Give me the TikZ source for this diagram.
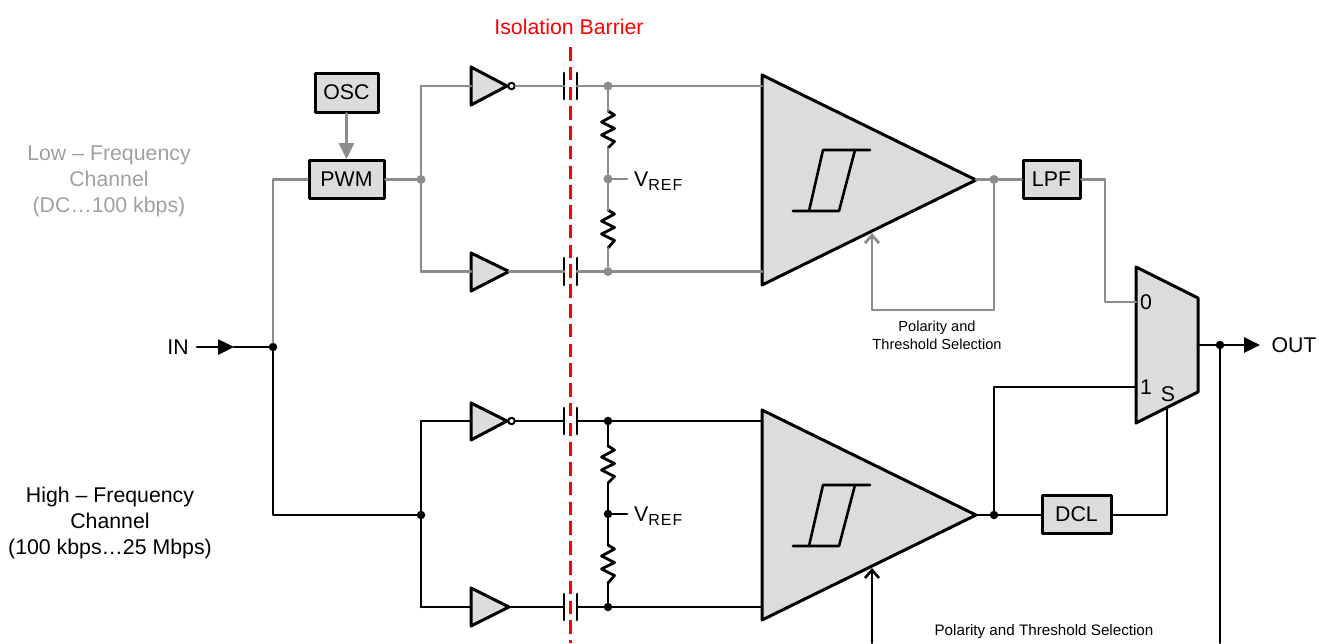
\documentclass[tikz,border=0pt]{standalone}
\usepackage{fontspec}
\setmainfont{Liberation Sans}
\usetikzlibrary{arrows.meta}
\definecolor{wiregray}{RGB}{140,140,140}
\definecolor{bodygray}{RGB}{220,220,220}
\definecolor{textgray}{RGB}{160,160,160}
\definecolor{barrierred}{RGB}{255,0,0}
\newcommand{\vref}{V\raisebox{-3.5pt}{\addfontfeature{LetterSpace=6}\fontsize{16}{16}\selectfont REF}}
\begin{document}
\begin{tikzpicture}[line cap=round,line join=round,x=1pt,y=-1pt,
  >={Triangle[length=16pt,width=15pt]},
  gwire/.style={draw=wiregray,line width=2.8pt},
  bwire/.style={draw=black,line width=2.6pt},
  body/.style={draw=black,fill=bodygray,line width=3pt},
  block/.style={body,rectangle,inner sep=0pt,font=\fontsize{21.3}{21.3}\selectfont},
  plate/.style={draw=black,line width=2.8pt},
  res/.style={draw=black,line width=2.8pt},
  gdot/.style={circle,fill=wiregray,inner sep=0pt,minimum size=9pt},
  bdot/.style={circle,fill=black,inner sep=0pt,minimum size=8.5pt},
  bubble/.style={circle,draw=black,fill=white,line width=2pt,inner sep=0pt,minimum size=6.5pt},
  lab/.style={inner sep=0pt,font=\fontsize{21.3}{26}\selectfont,align=center},
  small/.style={inner sep=0pt,font=\fontsize{14.6}{18}\selectfont,align=center}]
\useasboundingbox (0,0) rectangle (1319,643);
% barrier
\coordinate (bartop) at (570,47);
\coordinate (barbot) at (570,643);
\draw [draw=barrierred,line width=3pt,line cap=butt,dash pattern=on 13.5pt off 6.27pt] (bartop) -- (barbot);
\node [lab,text=barrierred] (bartext) at (569,27) {Isolation Barrier};
% side texts
\node [lab,text=textgray] (lotext) at (109,181) {Low -- Frequency\\Channel\\(DC\dots100 kbps)};
\node [lab] (hitext) at (110,523) {High -- Frequency\\Channel\\(100 kbps\dots25 Mbps)};
\node [lab] (intext) at (178,347) {IN};
\node [lab] (outtext) at (1294,345) {OUT};
\coordinate (inarrow) at (197,347);
\coordinate (inhead) at (234,347);
\node [bdot] (jin) at (273,347) {};
\coordinate (jinlo) at (273,179.5);
\coordinate (jinhi) at (273,515);
% low channel blocks
\node [block,minimum width=63pt,minimum height=39pt] (osc) at (346.5,92.5) {OSC};
\node [block,minimum width=75pt,minimum height=38pt] (pwm) at (346.5,179.5) {PWM};
\node [block,minimum width=57pt,minimum height=38pt] (lpf) at (1051.5,179.5) {LPF};
\node [gdot] (jpwm) at (421,179.5) {};
\coordinate (lotopl) at (421,86);
\coordinate (lobotl) at (421,271.5);
\draw [body] (471,67) -- (507,86) -- (471,105) -- cycle;
\draw [body] (471,253) -- (509,271.5) -- (471,291) -- cycle;
\coordinate (invloin) at (471,86);
\coordinate (bufloin) at (471,271.5);
\coordinate (bufloout) at (509,271.5);
\node [bubble] (bublo) at (511.5,86) {};
\coordinate (capla) at (564,86);
\coordinate (caplb) at (577,86);
\coordinate (caplc) at (564,271.5);
\coordinate (capld) at (577,271.5);
\draw [plate] (564,73) -- (564,99);
\draw [plate] (577,73) -- (577,99);
\draw [plate] (564,258) -- (564,285);
\draw [plate] (577,258) -- (577,285);
\node [gdot] (jlotop) at (608,86) {};
\node [gdot] (jlomid) at (608,179) {};
\node [gdot] (jlobot) at (608,271.5) {};
\coordinate (restla) at (608,111);
\coordinate (restlb) at (608,148);
\coordinate (resbla) at (608,210);
\coordinate (resblb) at (608,248);
\draw [res] (restla) -- ++(6.5,4) -- ++(-13,7) -- ++(13,6.5) -- ++(-13,6.5) -- ++(13,6.5) -- (restlb);
\draw [res] (resbla) -- ++(6.5,4) -- ++(-13,7) -- ++(13,6.5) -- ++(-13,6.5) -- ++(13,6.5) -- (resblb);
\coordinate (vrefl) at (627,179);
\node [lab,anchor=west] (vreflo) at (634,181) {\vref};
\draw [body] (762,75) -- (976,180) -- (762,285) -- cycle;
\coordinate (amplotop) at (762,86);
\coordinate (amplobot) at (762,271.5);
\coordinate (amploout) at (976,179.5);
\draw [bwire] (793,211) -- (839,211) -- (855,150) -- (870,150);
\draw [bwire] (809,211) -- (823,150) -- (855,150);
\node [gdot] (jloout) at (994,179.5) {};
\coordinate (fblo) at (994,310);
\coordinate (fblob) at (872,310);
\coordinate (fbloamp) at (872,233);
\node [small] (pollo) at (937,335) {Polarity and\\Threshold Selection};
% low channel wires
\draw [gwire] (jin) -- (jinlo) -- (pwm);
\draw [gwire,->] (osc) -- (pwm);
\draw [gwire] (pwm) -- (jpwm);
\draw [gwire] (lotopl) -- (jpwm) -- (lobotl);
\draw [gwire] (lotopl) -- (invloin);
\draw [gwire] (lobotl) -- (bufloin);
\draw [gwire] (bublo) -- (capla);
\draw [gwire] (bufloout) -- (caplc);
\draw [gwire] (caplb) -- (amplotop);
\draw [gwire] (capld) -- (amplobot);
\draw [gwire] (jlotop) -- (restla);
\draw [gwire] (restlb) -- (jlomid) -- (resbla);
\draw [gwire] (resblb) -- (jlobot);
\draw [gwire] (jlomid) -- (vrefl);
\draw [gwire] (amploout) -- (jloout) -- (lpf);
\draw [gwire,-{Straight Barb[length=8pt,width=14pt]}] (jloout) -- (fblo) -- (fblob) -- (fbloamp);
% high channel blocks
\node [bdot] (jhi) at (421,515) {};
\coordinate (hitopl) at (421,421);
\coordinate (hibotl) at (421,607);
\draw [body] (471,403) -- (507,421) -- (471,440) -- cycle;
\draw [body] (471,588) -- (509,607) -- (471,626) -- cycle;
\coordinate (invhiin) at (471,421);
\coordinate (bufhiin) at (471,607);
\coordinate (bufhiout) at (509,607);
\node [bubble] (bubhi) at (511.5,421) {};
\coordinate (capha) at (564,421);
\coordinate (caphb) at (577,421);
\coordinate (caphc) at (564,607);
\coordinate (caphd) at (577,607);
\draw [plate] (564,408) -- (564,434);
\draw [plate] (577,408) -- (577,434);
\draw [plate] (564,594) -- (564,620);
\draw [plate] (577,594) -- (577,620);
\node [bdot] (jhitop) at (608,421) {};
\node [bdot] (jhimid) at (608,514) {};
\node [bdot] (jhibot) at (608,607) {};
\coordinate (resthia) at (608,446);
\coordinate (resthib) at (608,483);
\coordinate (resbhia) at (608,545);
\coordinate (resbhib) at (608,583);
\draw [res] (resthia) -- ++(6.5,4) -- ++(-13,7) -- ++(13,6.5) -- ++(-13,6.5) -- ++(13,6.5) -- (resthib);
\draw [res] (resbhia) -- ++(6.5,4) -- ++(-13,7) -- ++(13,6.5) -- ++(-13,6.5) -- ++(13,6.5) -- (resbhib);
\coordinate (vrefh) at (627,514);
\node [lab,anchor=west] (vrefhi) at (634,516) {\vref};
\draw [body] (762,410) -- (976,515) -- (762,620) -- cycle;
\coordinate (amphitop) at (762,421);
\coordinate (amphibot) at (762,607);
\coordinate (amphiout) at (976,515);
\draw [bwire] (793,546) -- (839,546) -- (855,485) -- (870,485);
\draw [bwire] (809,546) -- (823,485) -- (855,485);
\node [bdot] (jhiout) at (994,515) {};
\node [block,minimum width=69pt,minimum height=38pt] (dcl) at (1076.5,514) {DCL};
\coordinate (fbhi) at (872,643);
\coordinate (fbhiamp) at (872,568);
\node [small,font=\fontsize{15.2}{18}\selectfont] (polhi) at (1044,631.5) {Polarity and Threshold Selection};
% high channel wires
\draw [bwire] (jin) -- (jinhi) -- (jhi);
\draw [bwire] (hitopl) -- (jhi) -- (hibotl);
\draw [bwire] (hitopl) -- (invhiin);
\draw [bwire] (hibotl) -- (bufhiin);
\draw [bwire] (bubhi) -- (capha);
\draw [bwire] (bufhiout) -- (caphc);
\draw [bwire] (caphb) -- (amphitop);
\draw [bwire] (caphd) -- (amphibot);
\draw [bwire] (jhitop) -- (resthia);
\draw [bwire] (resthib) -- (jhimid) -- (resbhia);
\draw [bwire] (resbhib) -- (jhibot);
\draw [bwire] (jhimid) -- (vrefh);
\draw [bwire] (amphiout) -- (jhiout) -- (dcl.west |- jhiout);
\draw [bwire,-{Straight Barb[length=8pt,width=14pt]}] (fbhi) -- (fbhiamp);
% mux
\draw [body] (1136,267) -- (1198,298) -- (1198,392) -- (1136,423) -- cycle;
\coordinate (muxa) at (1136,302);
\coordinate (muxb) at (1136,387);
\coordinate (muxs) at (1167,407);
\coordinate (muxo) at (1198,345);
\node [lab] (muxzero) at (1146,302) {0};
\node [lab] (muxone) at (1146,387) {1};
\node [lab] (muxsel) at (1168,394) {S};
\coordinate (lpfa) at (1105,179.5);
\coordinate (lpfb) at (1105,302);
\coordinate (jhiup) at (994,387);
\coordinate (dclr) at (1167,515);
\node [bdot] (jout) at (1220,345) {};
\coordinate (outend) at (1260,345);
\coordinate (outbot) at (1220,643);
\draw [gwire] (lpf) -- (lpfa) -- (lpfb) -- (muxa);
\draw [bwire] (jhiout) -- (jhiup) -- (muxb);
\draw [bwire] (dcl.east |- dclr) -- (dclr) -- (muxs);
\draw [bwire] (muxo) -- (jout);
\draw [bwire,->] (jout) -- (outend);
\draw [bwire] (jout) -- (outbot);
\draw [bwire,->] (inarrow) -- (inhead);
\draw [bwire] (inhead) -- (jin);
\end{tikzpicture}
\end{document}
